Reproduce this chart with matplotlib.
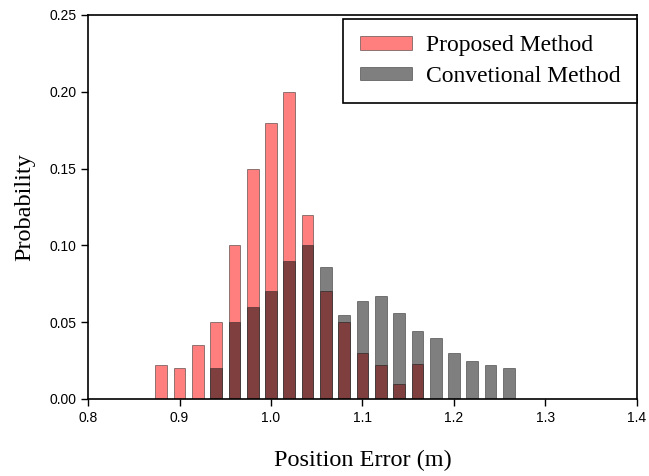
import numpy as np
import matplotlib.pyplot as plt

# bin centres (m) and probabilities
proposed_x = [0.88, 0.90, 0.92, 0.94, 0.96, 0.98, 1.00, 1.02, 1.04, 1.06, 1.08,
              1.10, 1.12, 1.14, 1.16]
proposed_p = [0.022, 0.020, 0.035, 0.050, 0.100, 0.150, 0.180, 0.200, 0.120, 0.070,
              0.050, 0.030, 0.022, 0.010, 0.023]

conv_x = [0.94, 0.96, 0.98, 1.00, 1.02, 1.04, 1.06, 1.08, 1.10, 1.12, 1.14, 1.16,
          1.18, 1.20, 1.22, 1.24, 1.26]
conv_p = [0.020, 0.050, 0.060, 0.070, 0.090, 0.100, 0.086, 0.055, 0.064, 0.067,
          0.056, 0.044, 0.040, 0.030, 0.025, 0.022, 0.020]

xticks = [0.8, 0.9, 1.0, 1.1, 1.2, 1.3, 1.4]
yticks = [0.00, 0.05, 0.10, 0.15, 0.20, 0.25]

fig = plt.figure(figsize=(6.49, 4.76), dpi=100)
ax = fig.add_axes([0.1356, 0.1618, 0.8459, 0.8067])

w = 0.0128
ax.bar(proposed_x, proposed_p, width=w, color='red', alpha=0.5,
       edgecolor='#222222', linewidth=0.7, label='Proposed Method')
ax.bar(conv_x, conv_p, width=w, color='black', alpha=0.5,
       edgecolor='#222222', linewidth=0.7, label='Convetional Method')

ax.set_xlim(0.8, 1.4)
ax.set_ylim(0, 0.25)
ax.set_xticks(xticks)
ax.set_xticklabels(['%.1f' % v for v in xticks], family='Liberation Sans', fontsize=10)
ax.set_yticks(yticks)
ax.set_yticklabels(['%.2f' % v for v in yticks], family='Liberation Sans', fontsize=10)
ax.tick_params(direction='out', length=5, width=1, top=False, right=False)
for s in ax.spines.values():
    s.set_linewidth(1.2)

ax.set_xlabel('Position Error (m)', family='Liberation Serif', fontsize=17.5, labelpad=18)
ax.set_ylabel('Probability', family='Liberation Serif', fontsize=17.5, labelpad=10)

leg = ax.legend(loc='upper right', prop={'family': 'Liberation Serif', 'size': 17},
                fancybox=False, edgecolor='black', framealpha=1,
                handlelength=2.2, handleheight=0.5, handletextpad=0.6,
                labelspacing=0.4, borderpad=0.7,
                bbox_to_anchor=(1.0, 0.99), borderaxespad=0)
leg.get_frame().set_linewidth(1.2)

fig.savefig('out.png', dpi=100)
